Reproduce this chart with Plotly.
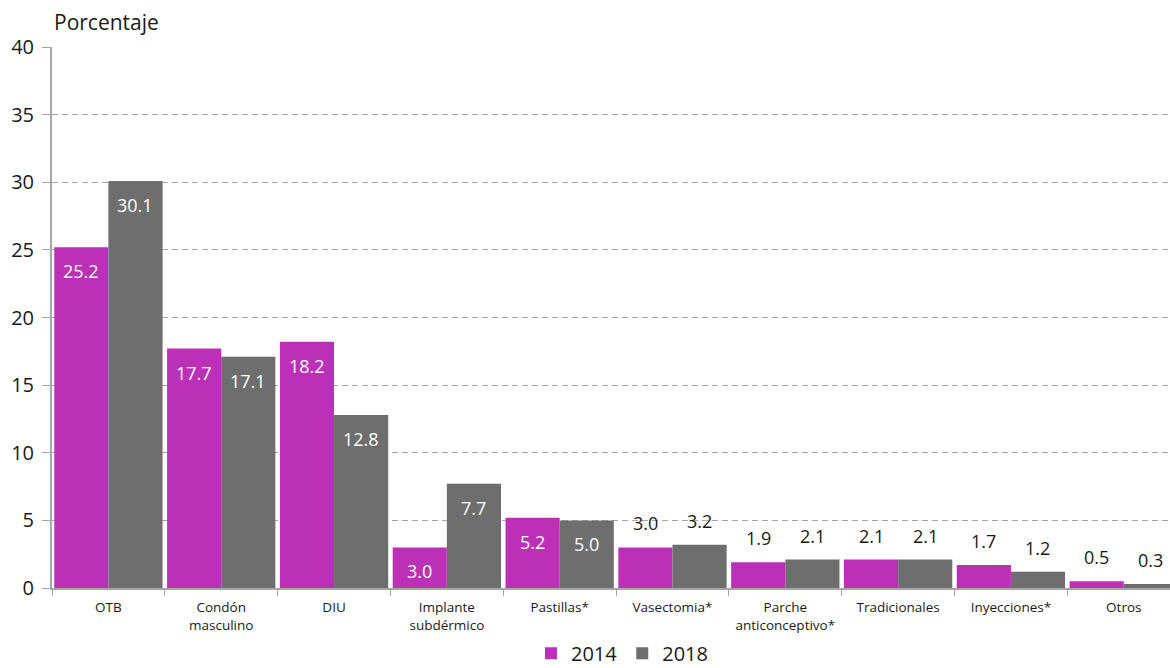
import plotly.graph_objects as go

categories = ["OTB", "Condón<br>masculino", "DIU", "Implante<br>subdérmico", "Pastillas*",
              "Vasectomia*", "Parche<br>anticonceptivo*", "Tradicionales", "Inyecciones*", "Otros"]
v2014 = [25.2, 17.7, 18.2, 3.0, 5.2, 3.0, 1.9, 2.1, 1.7, 0.5]
v2018 = [30.1, 17.1, 12.8, 7.7, 5.0, 3.2, 2.1, 2.1, 1.2, 0.3]
inside2014 = [True, True, True, True, True, False, False, False, False, False]
inside2018 = [True, True, True, True, True, False, False, False, False, False]

C14 = "#BC30B8"
C18 = "#6E6E6E"
FONT = "Open Sans"

fig = go.Figure()
fig.add_trace(go.Bar(x=categories, y=v2014, name="2014", marker=dict(color=C14, line=dict(width=0))))
fig.add_trace(go.Bar(x=categories, y=v2018, name="2018", marker=dict(color=C18, line=dict(width=0))))

ann = []
for vals, inside, shift in ((v2014, inside2014, -27), (v2018, inside2018, 27)):
    for c, v, ins in zip(categories, vals, inside):
        ann.append(dict(x=c, y=v, xref="x", yref="y", text=f"{v:.1f}", showarrow=False,
                        xshift=shift, yshift=(-24 if ins else 24),
                        font=dict(family=FONT, size=18, color="white" if ins else "#1a1a1a")))
ann.append(dict(x=0, y=1, xref="paper", yref="paper", xanchor="left", yanchor="bottom",
                yshift=9, text="Porcentaje", showarrow=False,
                font=dict(family=FONT, size=21, color="#1a1a1a")))

fig.update_layout(
    width=1170, height=668,
    margin=dict(l=52, r=0, t=47, b=80),
    paper_bgcolor="white", plot_bgcolor="white",
    barmode="group", bargap=0.04, bargroupgap=0,
    font=dict(family=FONT, color="#1a1a1a"),
    annotations=ann,
    legend=dict(orientation="h", x=0.532, xanchor="center", xref="container",
                yref="container", y=0.022, yanchor="middle",
                font=dict(family=FONT, size=20, color="#1a1a1a"),
                itemwidth=30, tracegroupgap=0, itemsizing="constant"),
    xaxis=dict(type="category", range=[-0.5, 9.41], tickson="boundaries", ticks="outside",
               ticklen=6, tickcolor="#A6A6A6", showline=True, linecolor="#A6A6A6", linewidth=2,
               tickfont=dict(family=FONT, size=13.5, color="#1a1a1a"), showgrid=False,
               automargin=False, ticklabelstandoff=6),
    yaxis=dict(range=[0, 40], dtick=5, ticks="outside", ticklen=8, tickcolor="#A6A6A6",
               showline=True, linecolor="#A6A6A6", linewidth=2,
               showgrid=True, gridcolor="#A6A6A6", griddash="6px,4px", gridwidth=1,
               zeroline=False, automargin=False, ticklabelstandoff=4,
               tickfont=dict(family=FONT, size=20, color="#1a1a1a")),
)

fig.write_html("out.html", config={"displayModeBar": False},
               post_script="document.body.style.margin='0';")
